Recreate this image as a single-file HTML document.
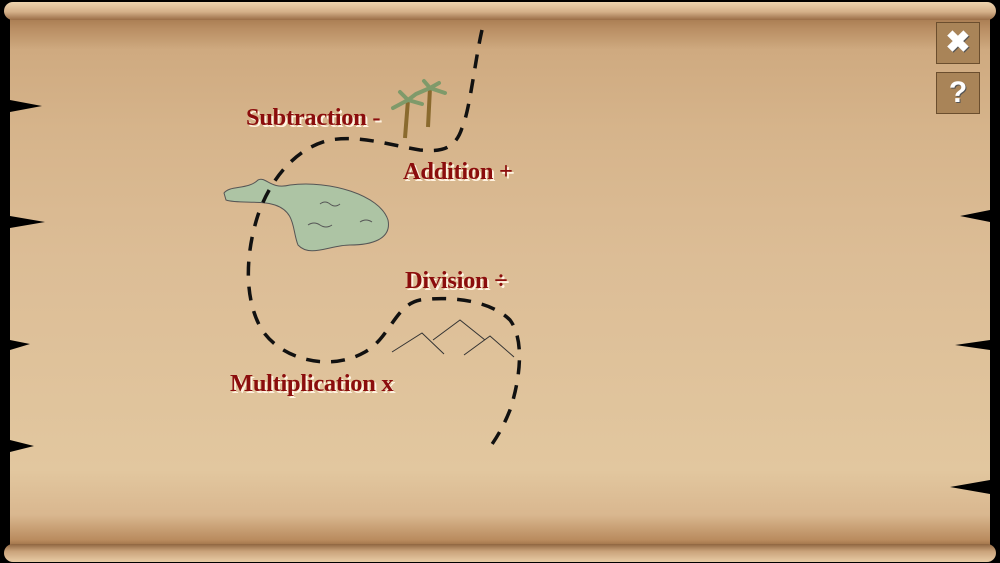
<!DOCTYPE html>
<html><head><style>
body{margin:0;width:1000px;height:563px;background:#000;overflow:hidden;position:relative;font-family:"Liberation Serif",serif}
.p{position:absolute;left:10px;top:10px;width:980px;height:543px;background:linear-gradient(#9c6e44 0px,#b88d62 18px,#cfaa80 40px,#d6b48b 120px,#dcbd96 250px,#e2c79f 460px,#d9b78f 505px,#b98b5e 530px,#8a5d36 540px)}
.roll{position:absolute;left:4px;width:992px;height:18px;border-radius:9px;background:linear-gradient(#edd3ae,#d4b089 55%,#9a6e47)}
.t{position:absolute;color:#8b0d0d;font-size:24.5px;font-weight:bold;text-shadow:2px 2px 0 #fff3e0;letter-spacing:-0.3px}
.btn{position:absolute;left:936px;width:42px;height:40px;background:#a98458;border:1px solid #6b4e2e;color:#fff;font:bold 30px "Liberation Sans",sans-serif;text-align:center;line-height:40px;text-shadow:1px 1px 0 #555}
</style></head><body>
<div class="p"></div>
<div class="roll" style="top:2px"></div>
<div class="roll" style="top:544px;background:linear-gradient(#8f6540,#c9a27a 40%,#e8cba5)"></div>
<svg width="1000" height="563" style="position:absolute;left:0;top:0">
<path d="M10,100 L42,106 L10,112Z M10,216 L45,222 L10,228Z M10,340 L30,344 L10,350Z M10,440 L34,446 L10,452Z M990,210 L960,216 L990,222Z M990,340 L955,345 L990,350Z M990,480 L950,487 L990,494Z" fill="#000"/>
<path d="M224,193 C230,185 248,190 258,180 C266,176 270,190 290,185 C330,180 380,195 388,220 C392,240 370,245 350,245 C330,245 310,258 298,245 C292,230 296,212 275,205 C260,200 238,204 226,200Z" fill="#adc4a4" stroke="#555" stroke-width="1"/>
<path d="M320,204 q5,-4 10,0 q5,4 10,0 M308,225 q6,-4 12,0 q6,4 12,0 M360,222 q6,-4 12,0" stroke="#555" fill="none"/>
<path d="M392,352 L422,333 L444,354 M433,340 L460,320 L485,340 M464,355 L490,336 L514,357" stroke="#333" fill="none" stroke-width="1"/>
<path d="M405,138 L408,100 M428,127 L430,88" stroke="#8a6a2e" stroke-width="4"/>
<path d="M408,100 l-15,8 M408,100 l14,4 M408,100 l-8,-8 M408,100 l8,-6 M430,88 l-14,6 M430,88 l15,5 M430,88 l-6,-7 M430,88 l9,-5" stroke="#7f9a6a" stroke-width="4" stroke-linecap="round"/>
<path d="M482,30 C475,60 470,110 462,128 C455,150 440,152 420,150 C390,145 360,135 330,140 C295,148 270,180 258,215 C245,255 244,300 262,330 C282,360 330,372 365,352 C390,338 395,305 420,300 C450,296 490,300 510,320 C525,340 520,380 510,410 C502,430 495,440 488,450" stroke="#111" stroke-width="3.5" fill="none" stroke-dasharray="14,11"/>
</svg>
<div class="t" style="left:246px;top:104px">Subtraction -</div>
<div class="t" style="left:403px;top:158px">Addition +</div>
<div class="t" style="left:405px;top:267px">Division ÷</div>
<div class="t" style="left:230px;top:370px">Multiplication x</div>
<div class="btn" style="top:22px">✖</div>
<div class="btn" style="top:72px">?</div>
</body></html>
